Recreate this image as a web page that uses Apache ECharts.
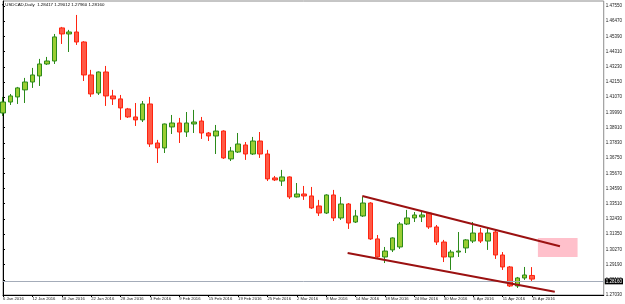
<!DOCTYPE html>
<html>
<head>
<meta charset="utf-8">
<script src="https://cdn.jsdelivr.net/npm/echarts@6/dist/echarts.min.js"></script>
<style>
html, body { margin: 0; padding: 0; background: #fff; }
#chart { width: 625px; height: 304px; }
</style>
</head>
<body>
<div id="chart"></div>
<script>
// daily bars, USDCAD
const days = [
    '6 Jan 2016', '7 Jan 2016', '8 Jan 2016', '11 Jan 2016', '12 Jan 2016', '13 Jan 2016', '14 Jan 2016', '15 Jan 2016',
    '18 Jan 2016', '19 Jan 2016', '20 Jan 2016', '21 Jan 2016', '22 Jan 2016', '25 Jan 2016', '26 Jan 2016', '27 Jan 2016',
    '28 Jan 2016', '29 Jan 2016', '1 Feb 2016', '2 Feb 2016', '3 Feb 2016', '4 Feb 2016', '5 Feb 2016', '8 Feb 2016',
    '9 Feb 2016', '10 Feb 2016', '11 Feb 2016', '12 Feb 2016', '15 Feb 2016', '16 Feb 2016', '17 Feb 2016', '18 Feb 2016',
    '19 Feb 2016', '22 Feb 2016', '23 Feb 2016', '24 Feb 2016', '25 Feb 2016', '26 Feb 2016', '29 Feb 2016', '1 Mar 2016',
    '2 Mar 2016', '3 Mar 2016', '4 Mar 2016', '7 Mar 2016', '8 Mar 2016', '9 Mar 2016', '10 Mar 2016', '11 Mar 2016',
    '14 Mar 2016', '15 Mar 2016', '16 Mar 2016', '17 Mar 2016', '18 Mar 2016', '21 Mar 2016', '22 Mar 2016', '23 Mar 2016',
    '24 Mar 2016', '25 Mar 2016', '28 Mar 2016', '29 Mar 2016', '30 Mar 2016', '31 Mar 2016', '1 Apr 2016', '4 Apr 2016',
    '5 Apr 2016', '6 Apr 2016', '7 Apr 2016', '8 Apr 2016', '11 Apr 2016', '12 Apr 2016', '13 Apr 2016', '14 Apr 2016',
    '15 Apr 2016'
];

const opens = [
    1.3995, 1.4073, 1.4109, 1.4159, 1.4215, 1.4258, 1.4343, 1.4364, 1.4599, 1.4556,
    1.4570, 1.4499, 1.4265, 1.4137, 1.4286, 1.4116, 1.4095, 1.4024, 1.3967, 1.3946,
    1.4059, 1.3782, 1.3747, 1.3896, 1.3924, 1.3860, 1.3917, 1.3938, 1.3853, 1.3832,
    1.3867, 1.3669, 1.3718, 1.3768, 1.3704, 1.3796, 1.3704, 1.3534, 1.3512, 1.3541,
    1.3399, 1.3420, 1.3406, 1.3335, 1.3285, 1.3413, 1.3250, 1.3349, 1.3221, 1.3264,
    1.3356, 1.3101, 1.2973, 1.3023, 1.3044, 1.3207, 1.3250, 1.3257, 1.3285, 1.3186,
    1.3079, 1.2973, 1.3008, 1.3037, 1.3086, 1.3143, 1.3086, 1.3150, 1.2987, 1.2902,
    1.2767, 1.2824, 1.28417
];
const highs = [
    1.4109, 1.4130, 1.4180, 1.4244, 1.4315, 1.4379, 1.4393, 1.4556, 1.4606, 1.4585,
    1.4691, 1.4505, 1.4301, 1.4290, 1.4329, 1.4159, 1.4123, 1.4031, 1.4066, 1.4080,
    1.4109, 1.3804, 1.3920, 1.3981, 1.3960, 1.4002, 1.4017, 1.3967, 1.3860, 1.3910,
    1.3872, 1.3754, 1.3853, 1.3789, 1.3825, 1.3860, 1.3733, 1.3548, 1.3591, 1.3545,
    1.3498, 1.3477, 1.3470, 1.3378, 1.3418, 1.3449, 1.3399, 1.3356, 1.3307, 1.3399,
    1.3362, 1.3129, 1.3044, 1.3112, 1.3221, 1.3307, 1.3292, 1.3292, 1.3292, 1.3200,
    1.3094, 1.3023, 1.3150, 1.3100, 1.3221, 1.3179, 1.3179, 1.3165, 1.3008, 1.2909,
    1.2831, 1.2902, 1.29012
];
const lows = [
    1.3974, 1.4052, 1.4059, 1.4066, 1.4173, 1.4187, 1.4336, 1.4343, 1.4485, 1.4428,
    1.4478, 1.4222, 1.4109, 1.4123, 1.4045, 1.4052, 1.3946, 1.3960, 1.3903, 1.3931,
    1.3754, 1.3640, 1.3711, 1.3846, 1.3782, 1.3825, 1.3853, 1.3811, 1.3796, 1.3704,
    1.3669, 1.3654, 1.3711, 1.3662, 1.3697, 1.3676, 1.3512, 1.3512, 1.3477, 1.3385,
    1.3395, 1.3378, 1.3314, 1.3264, 1.3278, 1.3228, 1.3236, 1.3172, 1.3214, 1.3257,
    1.3094, 1.2968, 1.2930, 1.3008, 1.3030, 1.3200, 1.3221, 1.3221, 1.3172, 1.3058,
    1.2937, 1.2881, 1.2973, 1.3001, 1.3072, 1.3072, 1.3023, 1.2959, 1.2881, 1.2760,
    1.2753, 1.2810, 1.27960
];
const closes = [
    1.4073, 1.4116, 1.4173, 1.4215, 1.4265, 1.4343, 1.4364, 1.4535, 1.4556, 1.4570,
    1.4499, 1.4265, 1.4130, 1.4286, 1.4116, 1.4095, 1.4031, 1.3967, 1.3946, 1.4059,
    1.3775, 1.3747, 1.3917, 1.3924, 1.3860, 1.3924, 1.3931, 1.3853, 1.3832, 1.3867,
    1.3676, 1.3725, 1.3775, 1.3704, 1.3796, 1.3704, 1.3527, 1.3520, 1.3541, 1.3399,
    1.3420, 1.3406, 1.3321, 1.3285, 1.3413, 1.3250, 1.3349, 1.3214, 1.3264, 1.3356,
    1.3101, 1.2973, 1.3015, 1.3108, 1.3207, 1.3250, 1.3271, 1.3271, 1.3186, 1.3079,
    1.2973, 1.3008, 1.3015, 1.3094, 1.3143, 1.3086, 1.3143, 1.2987, 1.2902, 1.2767,
    1.2824, 1.2845, 1.28160
];

const dateTicks = [
    '6 Jan 2016', '12 Jan 2016', '18 Jan 2016', '22 Jan 2016', '28 Jan 2016', '3 Feb 2016', '9 Feb 2016',
    '15 Feb 2016', '19 Feb 2016', '25 Feb 2016', '2 Mar 2016', '8 Mar 2016', '14 Mar 2016', '18 Mar 2016',
    '24 Mar 2016', '30 Mar 2016', '5 Apr 2016', '11 Apr 2016', '15 Apr 2016'
];
const priceTicks = [
    1.27030, 1.28110, 1.29190, 1.30270, 1.31350, 1.32430, 1.33510, 1.34590, 1.35670, 1.36750,
    1.37830, 1.38910, 1.39990, 1.41070, 1.42150, 1.43230, 1.44310, 1.45390, 1.46470, 1.47550
];

// drawn objects: channel lines [bar index, price], target box, last price
const upperChannel = [[48.9, 1.3406], [75.8, 1.3049]];
const lowerChannel = [[46.9, 1.3001], [75.1, 1.2726]];
const targetZone = [[72.8, 1.3108], [78.2, 1.2973]];
const lastPrice = 1.28160;

const font = '"Liberation Sans", Arial, sans-serif';

const candles = days.map((d, i) => [i, opens[i], closes[i], lows[i], highs[i]]);
const tickIdx = dateTicks.map(d => days.indexOf(d));

const option = {
    animation: false,
    title: {
        text: '\u25BE USDCAD,Daily  ' + [opens[72], highs[72], lows[72], closes[72]].map(v => v.toFixed(5)).join(' '),
        left: 2,
        top: 3,
        padding: 0,
        textStyle: { fontSize: 4.4, fontWeight: 'normal', color: '#000', fontFamily: font }
    },
    grid: {
        left: 1, right: 21, top: 1, bottom: 9,
        show: true, borderColor: '#8c8c8c', borderWidth: 1, backgroundColor: '#fff'
    },
    xAxis: {
        type: 'value',
        min: 0,
        max: 81.76,
        axisLine: { show: true, onZero: false, lineStyle: { color: '#000', width: 1 } },
        axisTick: { show: true, length: 2, customValues: tickIdx, lineStyle: { color: '#000' } },
        axisLabel: {
            customValues: tickIdx,
            formatter: v => days[v] || '',
            fontSize: 4.2, color: '#222', margin: 2, align: 'left', fontFamily: font
        },
        splitLine: { show: false }
    },
    yAxis: {
        type: 'value',
        position: 'right',
        min: 1.2703,
        max: 1.4790,
        axisLine: { show: true, lineStyle: { color: '#000', width: 1 } },
        axisTick: { show: true, length: 2, customValues: priceTicks, lineStyle: { color: '#000' } },
        axisLabel: {
            customValues: priceTicks,
            formatter: v => v.toFixed(5),
            fontSize: 4.5, color: '#222', margin: 2, fontFamily: font
        },
        splitLine: { show: false }
    },
    series: [
        {
            type: 'candlestick',
            data: candles,
            barWidth: 5,
            clip: true,
            itemStyle: {
                color: '#9acd32', color0: '#ff5a46',
                borderColor: '#2b8a1a', borderColor0: '#ff2410', borderWidth: 1
            },
            markLine: {
                silent: true,
                symbol: 'none',
                animation: false,
                lineStyle: { color: '#a4acb9', width: 1, type: 'solid' },
                label: {
                    position: 'end', formatter: lastPrice.toFixed(5),
                    backgroundColor: '#000', color: '#fff', fontSize: 4.5,
                    padding: [1, 1, 0, 1], distance: 1, fontFamily: font
                },
                data: [{ yAxis: lastPrice }]
            },
            markArea: {
                silent: true,
                itemStyle: { color: '#ffc0cb' },
                data: [[{ coord: targetZone[0] }, { coord: targetZone[1] }]]
            }
        },
        {
            type: 'line', data: upperChannel, symbol: 'none', silent: true, z: 5,
            lineStyle: { color: '#9b1111', width: 2 }
        },
        {
            type: 'line', data: lowerChannel, symbol: 'none', silent: true, z: 5,
            lineStyle: { color: '#9b1111', width: 2 }
        }
    ]
};

const chart = echarts.init(document.getElementById('chart'));
chart.setOption(option);
</script>
</body>
</html>
